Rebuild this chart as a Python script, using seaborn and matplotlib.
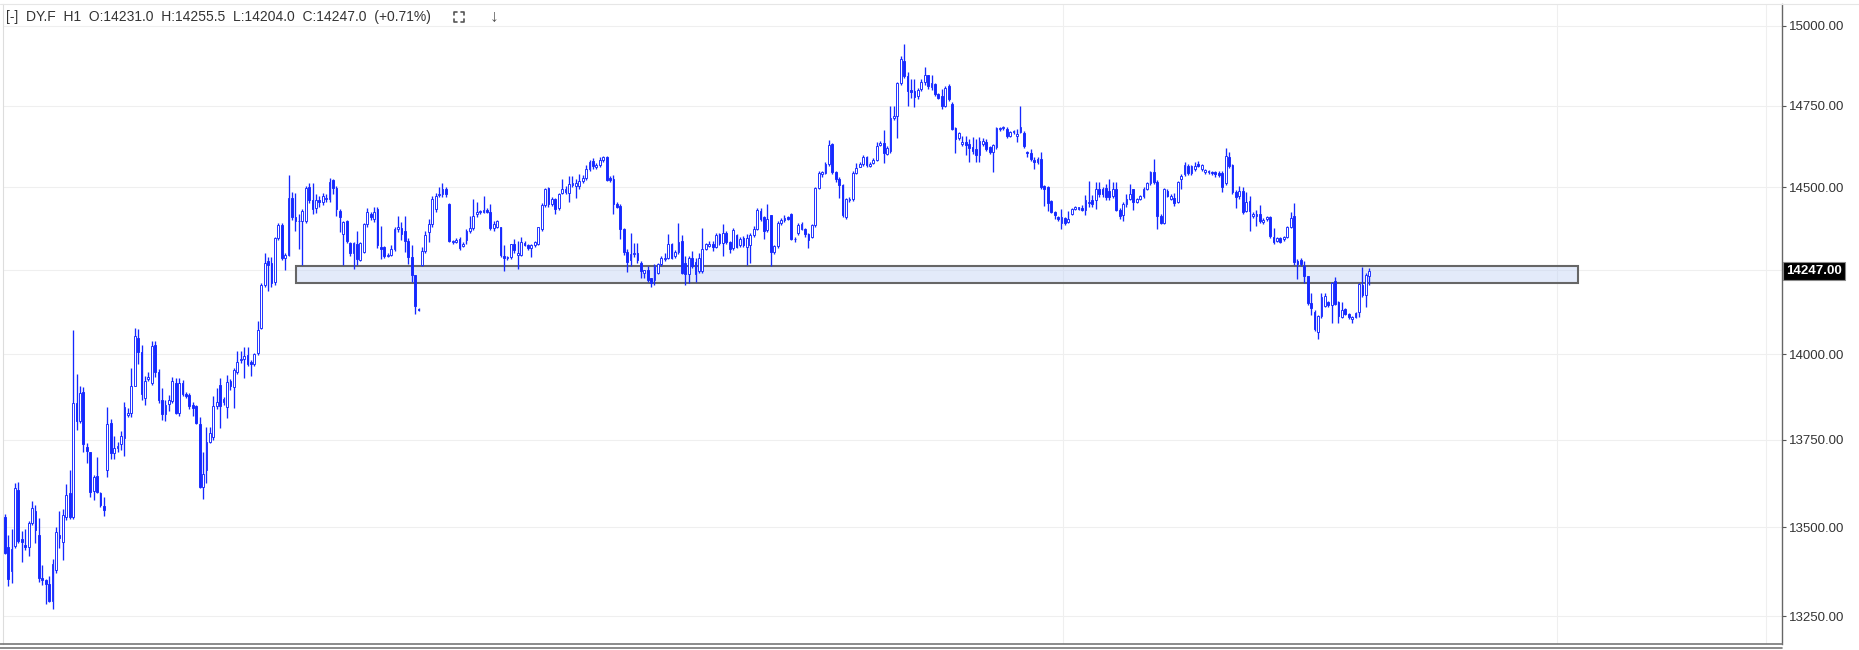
import matplotlib
matplotlib.use("Agg")
import numpy as np
import pandas as pd
import seaborn as sns
import matplotlib.pyplot as plt
from matplotlib.ticker import FixedLocator, FuncFormatter, NullLocator, NullFormatter
from matplotlib.patches import Rectangle
from matplotlib.lines import Line2D

# ---------------- data (hourly candles, DY.F H1) ----------------
opens = [
    13528, 13444, 13377, 13446, 13606, 13465, 13450, 13444, 13513, 13546,
    13479, 13357, 13351, 13339, 13293, 13380, 13479, 13458, 13528, 13597,
    13528, 13858, 13803, 13890, 13728, 13716, 13602, 13647, 13597, 13560,
    13664, 13800, 13713, 13725, 13739, 13755, 13823, 13829, 13907, 14046,
    14006, 13872, 13927, 13916, 14027, 13946, 13866, 13825, 13855, 13863,
    13916, 13829, 13916, 13883, 13881, 13852, 13849, 13797, 13615, 13664,
    13745, 13758, 13849, 13910, 13861, 13846, 13922, 13904, 13946, 13983,
    13986, 13996, 13977, 13971, 14003, 14078, 14205, 14276, 14270, 14213,
    14345, 14385, 14285, 14293, 14468, 14408, 14396, 14398, 14398, 14501,
    14461, 14435, 14461, 14453, 14463, 14463, 14521, 14498, 14428, 14358,
    14398, 14330, 14300, 14328, 14280, 14303, 14388, 14418, 14403, 14433,
    14318, 14318, 14291, 14295, 14311, 14373, 14377, 14368, 14338, 14288,
    14233, 14133, 14263, 14306, 14365, 14388, 14433, 14475, 14478, 14493,
    14448, 14333, 14335, 14343, 14321, 14340, 14368, 14375, 14418, 14423,
    14425, 14430, 14423, 14375, 14378, 14378, 14291, 14285, 14288, 14326,
    14295, 14295, 14331, 14323, 14315, 14323, 14328, 14373, 14445, 14498,
    14448, 14463, 14435, 14483, 14485, 14483, 14505, 14503, 14503, 14518,
    14528, 14555, 14580, 14561, 14568, 14583, 14591, 14528, 14525, 14448,
    14443, 14373, 14303, 14278, 14298, 14300, 14271, 14241, 14248, 14226,
    14220, 14241, 14266, 14281, 14286, 14327, 14291, 14303, 14337, 14271,
    14236, 14286, 14273, 14246, 14246, 14313, 14322, 14329, 14319, 14357,
    14332, 14362, 14334, 14316, 14354, 14324, 14347, 14319, 14324, 14354,
    14374, 14428, 14410, 14370, 14414, 14303, 14321, 14392, 14399, 14409,
    14417, 14344, 14360, 14374, 14374, 14357, 14350, 14384, 14498, 14539,
    14544, 14569, 14632, 14546, 14526, 14505, 14410, 14461, 14463, 14544,
    14562, 14569, 14592, 14564, 14574, 14584, 14630, 14635, 14602, 14611,
    14711, 14717, 14820, 14888, 14842, 14799, 14796, 14779, 14801, 14824,
    14844, 14809, 14817, 14786, 14781, 14750, 14811, 14755, 14682, 14649,
    14632, 14639, 14632, 14621, 14616, 14598, 14632, 14639, 14621, 14608,
    14621, 14678, 14680, 14678, 14657, 14668, 14657, 14670, 14666, 14608,
    14604, 14583, 14575, 14587, 14503, 14501, 14457, 14423, 14409, 14390,
    14406, 14395, 14419, 14433, 14433, 14436, 14431, 14450, 14462, 14462,
    14495, 14493, 14498, 14488, 14473, 14493, 14431, 14416, 14447, 14464,
    14495, 14454, 14464, 14473, 14495, 14511, 14546, 14516, 14413, 14392,
    14488, 14464, 14467, 14454, 14524, 14539, 14565, 14542, 14555, 14570,
    14555, 14546, 14546, 14546, 14546, 14544, 14544, 14512, 14592, 14566,
    14486, 14472, 14489, 14428, 14458, 14411, 14411, 14418, 14393, 14403,
    14408, 14348, 14337, 14345, 14343, 14348, 14378, 14411, 14277, 14280,
    14262, 14230, 14151, 14123, 14066, 14111, 14143, 14153, 14146, 14217,
    14153, 14109, 14133, 14119, 14103, 14109, 14123, 14204, 14176, 14231,
]
highs = [
    13538, 13477, 13494, 13627, 13629, 13489, 13494, 13518, 13573, 13562,
    13525, 13393, 13354, 13361, 13409, 13499, 13545, 13552, 13624, 13664,
    14071, 13940, 13907, 13904, 13740, 13716, 13650, 13699, 13600, 13586,
    13846, 13810, 13760, 13745, 13774, 13861, 13842, 13959, 14078, 14075,
    14027, 13936, 13948, 14037, 14037, 13955, 13899, 13866, 13880, 13933,
    13930, 13930, 13924, 13890, 13885, 13861, 13852, 13817, 13716, 13788,
    13788, 13878, 13900, 13930, 13875, 13938, 13928, 13958, 14010, 14010,
    14020, 14020, 13982, 14003, 14097, 14210, 14301, 14288, 14288, 14350,
    14391, 14391, 14300, 14538, 14485, 14483, 14418, 14433, 14503, 14513,
    14513, 14478, 14473, 14483, 14478, 14528, 14525, 14503, 14433, 14398,
    14401, 14333, 14335, 14368, 14335, 14390, 14435, 14425, 14438, 14438,
    14383, 14320, 14300, 14323, 14378, 14413, 14395, 14413, 14345, 14323,
    14233, 14135, 14318, 14368, 14403, 14473, 14483, 14500, 14511, 14501,
    14450, 14340, 14345, 14348, 14333, 14373, 14413, 14463, 14453, 14430,
    14473, 14435, 14448, 14398, 14400, 14380, 14323, 14292, 14328, 14343,
    14338, 14348, 14336, 14328, 14328, 14338, 14380, 14450, 14498, 14500,
    14470, 14468, 14483, 14525, 14503, 14533, 14533, 14525, 14540, 14538,
    14568, 14583, 14588, 14573, 14593, 14596, 14596, 14535, 14538, 14455,
    14448, 14375, 14313, 14360, 14331, 14331, 14276, 14250, 14261, 14226,
    14266, 14271, 14290, 14301, 14357, 14330, 14310, 14392, 14354, 14291,
    14291, 14306, 14286, 14301, 14375, 14332, 14337, 14337, 14362, 14362,
    14389, 14367, 14337, 14375, 14357, 14350, 14352, 14357, 14360, 14382,
    14436, 14435, 14413, 14448, 14416, 14325, 14397, 14405, 14414, 14413,
    14420, 14350, 14392, 14393, 14377, 14362, 14388, 14500, 14550, 14550,
    14575, 14645, 14635, 14550, 14530, 14508, 14468, 14470, 14548, 14574,
    14576, 14599, 14595, 14576, 14590, 14638, 14640, 14675, 14625, 14748,
    14748, 14825, 14906, 14942, 14855, 14832, 14832, 14805, 14834, 14871,
    14847, 14847, 14820, 14790, 14803, 14810, 14817, 14760, 14685, 14670,
    14657, 14655, 14647, 14652, 14647, 14652, 14650, 14647, 14625, 14632,
    14684, 14685, 14688, 14683, 14672, 14676, 14678, 14748, 14673, 14611,
    14616, 14591, 14591, 14608, 14505, 14503, 14460, 14426, 14412, 14433,
    14410, 14426, 14436, 14443, 14440, 14446, 14475, 14519, 14475, 14514,
    14514, 14500, 14508, 14524, 14514, 14514, 14436, 14454, 14478, 14508,
    14495, 14468, 14476, 14500, 14515, 14550, 14585, 14520, 14418, 14498,
    14495, 14478, 14483, 14519, 14540, 14575, 14570, 14568, 14575, 14580,
    14570, 14556, 14553, 14550, 14550, 14548, 14548, 14620, 14607, 14570,
    14490, 14502, 14499, 14486, 14473, 14425, 14430, 14445, 14405, 14411,
    14412, 14375, 14350, 14350, 14352, 14382, 14423, 14451, 14282, 14285,
    14277, 14232, 14181, 14130, 14115, 14181, 14181, 14158, 14215, 14227,
    14156, 14153, 14137, 14122, 14112, 14125, 14210, 14257, 14240, 14255.5,
]
lows = [
    13425, 13335, 13342, 13440, 13455, 13400, 13434, 13417, 13505, 13456,
    13345, 13337, 13284, 13290, 13270, 13371, 13441, 13407, 13520, 13523,
    13523, 13777, 13800, 13716, 13682, 13586, 13576, 13598, 13558, 13531,
    13644, 13695, 13694, 13715, 13721, 13704, 13815, 13817, 13905, 13972,
    13864, 13851, 13920, 13910, 13933, 13858, 13808, 13805, 13832, 13858,
    13825, 13820, 13878, 13870, 13840, 13820, 13795, 13610, 13579, 13626,
    13740, 13750, 13840, 13784, 13850, 13812, 13895, 13842, 13940, 13975,
    13930, 13965, 13936, 13965, 13998, 14075, 14200, 14188, 14200, 14205,
    14340, 14278, 14250, 14290, 14400, 14368, 14313, 14263, 14390, 14450,
    14418, 14420, 14440, 14445, 14455, 14455, 14480, 14413, 14365, 14263,
    14330, 14290, 14251, 14263, 14275, 14300, 14380, 14400, 14395, 14315,
    14283, 14285, 14288, 14290, 14305, 14365, 14340, 14303, 14268, 14213,
    14118, 14128, 14261, 14300, 14335, 14380, 14425, 14470, 14470, 14470,
    14335, 14328, 14330, 14308, 14318, 14328, 14360, 14370, 14410, 14418,
    14420, 14420, 14370, 14368, 14375, 14288, 14245, 14280, 14282, 14300,
    14253, 14290, 14320, 14310, 14288, 14318, 14325, 14368, 14440, 14440,
    14443, 14418, 14430, 14478, 14480, 14453, 14500, 14468, 14495, 14513,
    14520, 14550, 14555, 14556, 14560, 14578, 14518, 14515, 14418, 14435,
    14343, 14295, 14243, 14260, 14288, 14270, 14226, 14226, 14215, 14200,
    14205, 14236, 14261, 14276, 14281, 14281, 14286, 14298, 14236, 14205,
    14210, 14256, 14215, 14241, 14241, 14308, 14318, 14306, 14314, 14325,
    14291, 14329, 14301, 14310, 14314, 14318, 14318, 14263, 14271, 14350,
    14370, 14398, 14344, 14365, 14261, 14298, 14316, 14385, 14395, 14400,
    14339, 14335, 14355, 14370, 14350, 14316, 14345, 14380, 14493, 14530,
    14540, 14565, 14540, 14515, 14468, 14410, 14404, 14455, 14458, 14540,
    14560, 14565, 14560, 14560, 14570, 14580, 14625, 14574, 14598, 14605,
    14705, 14650, 14815, 14835, 14750, 14775, 14745, 14770, 14795, 14815,
    14803, 14800, 14780, 14770, 14740, 14745, 14765, 14675, 14604, 14645,
    14625, 14598, 14575, 14600, 14575, 14575, 14625, 14610, 14600, 14546,
    14615, 14672, 14675, 14650, 14652, 14664, 14637, 14665, 14620, 14591,
    14580, 14555, 14570, 14495, 14442, 14426, 14420, 14403, 14398, 14372,
    14385, 14390, 14415, 14430, 14430, 14428, 14416, 14440, 14440, 14432,
    14470, 14470, 14460, 14462, 14468, 14426, 14403, 14396, 14440, 14460,
    14431, 14450, 14460, 14468, 14490, 14505, 14508, 14372, 14388, 14388,
    14470, 14460, 14442, 14450, 14494, 14535, 14538, 14538, 14550, 14562,
    14550, 14540, 14540, 14538, 14530, 14530, 14486, 14505, 14558, 14480,
    14435, 14465, 14418, 14423, 14368, 14405, 14383, 14392, 14388, 14398,
    14345, 14328, 14333, 14332, 14338, 14345, 14375, 14265, 14224, 14260,
    14212, 14146, 14116, 14068, 14043, 14106, 14138, 14140, 14093, 14145,
    14091, 14105, 14115, 14104, 14093, 14105, 14109, 14170, 14139, 14204,
]
closes = [
    13427, 13353, 13438, 13612, 13462, 13458, 13444, 13513, 13554, 13492,
    13355, 13351, 13339, 13293, 13395, 13487, 13469, 13533, 13591, 13528,
    13858, 13803, 13887, 13738, 13718, 13600, 13644, 13600, 13562, 13550,
    13795, 13713, 13726, 13733, 13760, 13844, 13829, 13907, 14052, 14006,
    13883, 13922, 13933, 14023, 13946, 13866, 13825, 13852, 13865, 13922,
    13829, 13916, 13883, 13878, 13848, 13842, 13800, 13613, 13652, 13745,
    13771, 13849, 13861, 13849, 13867, 13919, 13907, 13952, 13977, 13986,
    13994, 13971, 13971, 14000, 14071, 14205, 14270, 14263, 14210, 14345,
    14385, 14285, 14293, 14468, 14408, 14398, 14398, 14428, 14498, 14461,
    14433, 14461, 14453, 14473, 14468, 14515, 14498, 14433, 14410, 14395,
    14338, 14300, 14330, 14281, 14330, 14388, 14423, 14408, 14423, 14323,
    14313, 14291, 14295, 14311, 14373, 14380, 14358, 14338, 14288, 14233,
    14143, 14131, 14306, 14355, 14388, 14465, 14473, 14478, 14493, 14478,
    14338, 14338, 14340, 14315, 14328, 14368, 14375, 14413, 14425, 14428,
    14430, 14425, 14375, 14388, 14398, 14293, 14285, 14288, 14326, 14308,
    14300, 14333, 14323, 14315, 14323, 14333, 14378, 14445, 14493, 14448,
    14465, 14433, 14478, 14495, 14495, 14510, 14513, 14513, 14518, 14528,
    14555, 14578, 14563, 14568, 14583, 14591, 14521, 14523, 14448, 14438,
    14373, 14303, 14273, 14298, 14300, 14278, 14246, 14248, 14220, 14212,
    14261, 14266, 14286, 14286, 14327, 14286, 14303, 14335, 14241, 14236,
    14286, 14261, 14236, 14286, 14313, 14327, 14327, 14319, 14354, 14332,
    14360, 14334, 14311, 14369, 14319, 14342, 14324, 14347, 14354, 14374,
    14430, 14404, 14367, 14404, 14303, 14321, 14392, 14399, 14407, 14404,
    14344, 14342, 14384, 14387, 14357, 14340, 14384, 14498, 14544, 14546,
    14569, 14630, 14546, 14524, 14505, 14414, 14463, 14465, 14542, 14559,
    14569, 14592, 14566, 14571, 14584, 14625, 14635, 14604, 14619, 14711,
    14717, 14820, 14896, 14842, 14796, 14793, 14778, 14799, 14824, 14847,
    14811, 14820, 14786, 14775, 14750, 14806, 14770, 14678, 14647, 14665,
    14637, 14629, 14618, 14611, 14598, 14640, 14640, 14616, 14608, 14629,
    14680, 14680, 14685, 14657, 14668, 14673, 14662, 14683, 14627, 14604,
    14585, 14577, 14587, 14501, 14495, 14452, 14423, 14416, 14403, 14409,
    14390, 14403, 14433, 14438, 14438, 14431, 14460, 14454, 14447, 14493,
    14478, 14478, 14470, 14470, 14493, 14431, 14411, 14447, 14464, 14478,
    14454, 14464, 14473, 14495, 14511, 14546, 14514, 14411, 14392, 14493,
    14473, 14473, 14452, 14516, 14534, 14567, 14542, 14563, 14563, 14565,
    14567, 14553, 14550, 14542, 14539, 14537, 14499, 14596, 14564, 14486,
    14469, 14489, 14423, 14455, 14428, 14418, 14418, 14398, 14401, 14408,
    14351, 14333, 14345, 14335, 14348, 14378, 14405, 14272, 14267, 14267,
    14230, 14151, 14136, 14073, 14111, 14169, 14173, 14146, 14210, 14149,
    14111, 14129, 14119, 14109, 14109, 14121, 14207, 14176, 14234, 14247,
]

price_ticks = [13250, 13500, 13750, 14000, 14250, 14500, 14750, 15000]
hidden_tick = 14250          # covered by the last-price label
last_price = 14247.0
zone_low, zone_high = 14212, 14260     # drawn support zone (price)
zone_start, zone_end = 85.2, 460.0     # zone extent (bar index)
vgrid_bars = [309.5, 453.8, 515.0]     # vertical grid lines (bar index)
header = "[-]  DY.F  H1  O:14231.0  H:14255.5  L:14204.0  C:14247.0  (+0.71%)"

assert len(opens) == len(highs) == len(lows) == len(closes) == 400

df = pd.DataFrame({"open": opens, "high": highs, "low": lows, "close": closes})
df["bar"] = np.arange(len(df))
df["up"] = df["close"] >= df["open"]

# ---------------- figure ----------------
sns.set_theme(style="white")
plt.rcParams["font.family"] = ["Liberation Sans", "DejaVu Sans"]

W, H = 1859, 650
fig = plt.figure(figsize=(W / 100, H / 100), dpi=100)
fig.patch.set_facecolor("white")
ax_l, ax_r, ax_t, ax_b = 3.3, 1782.0, 4.0, 644.3
ax = fig.add_axes([ax_l / W, 1 - ax_b / H, (ax_r - ax_l) / W, (ax_b - ax_t) / H])
ax.set_facecolor("white")

BLUE = "#1428ff"

# grid
for t in price_ticks:
    ax.axhline(t, color="#efefef", lw=0.8, zorder=0.5)
for xv in vgrid_bars:
    ax.axvline(xv, color="#efefef", lw=0.8, zorder=0.5)

# zone rectangle
ax.add_patch(Rectangle((zone_start, zone_low), zone_end - zone_start, zone_high - zone_low,
                       facecolor=(0.76, 0.824, 0.96, 0.45), edgecolor="#666666",
                       lw=1.5, zorder=2))

# wicks
wick_lo = np.minimum(df["low"], np.minimum(df["open"], df["close"]))
wick_hi = np.maximum(df["high"], np.maximum(df["open"], df["close"]))
ax.vlines(df["bar"], wick_lo, wick_hi, color=BLUE, lw=0.95, zorder=3)

# bodies
up = df[df["up"]]
dn = df[~df["up"]]
ax.bar(up["bar"], up["close"] - up["open"], bottom=up["open"], width=0.52,
       facecolor="white", edgecolor=BLUE, linewidth=0.65, zorder=4)
ax.bar(dn["bar"], dn["open"] - dn["close"], bottom=dn["close"], width=0.52,
       facecolor=BLUE, edgecolor=BLUE, linewidth=0.65, zorder=4)

# scales
ax.set_yscale("log")
ax.set_ylim(13171.6, 15068.6)
ax.set_xlim(-0.41, 519.68)
ax.set_xticks([])
ax.yaxis.tick_right()
ax.yaxis.set_major_locator(FixedLocator(price_ticks))
ax.yaxis.set_minor_locator(NullLocator())
ax.yaxis.set_minor_formatter(NullFormatter())
ax.yaxis.set_major_formatter(FuncFormatter(
    lambda v, p: "" if abs(v - hidden_tick) < 1 else f"{v:.2f}"))
ax.tick_params(axis="y", which="major", direction="out", length=3, width=0.8,
               color="#555555", labelsize=9.5, labelcolor="#333333", pad=2)

for s in ["top", "bottom"]:
    ax.spines[s].set_visible(False)
ax.spines["left"].set_color("#dddddd")
ax.spines["left"].set_linewidth(0.8)
ax.spines["right"].set_color("#666666")
ax.spines["right"].set_linewidth(1.0)

# last price label
ax.annotate(f"{last_price:.2f}", xy=(1, last_price), xycoords=("axes fraction", "data"),
            xytext=(3.0, 0), textcoords="offset points", ha="left", va="center",
            color="white", fontsize=9.5, fontweight="bold",
            bbox=dict(boxstyle="square,pad=0.22", fc="black", ec="#888888", lw=0.8),
            annotation_clip=False, zorder=10)

# frame lines (figure pixel coords)
def hline(y, x0, x1, color, lw):
    fig.add_artist(Line2D([x0 / W, x1 / W], [1 - y / H, 1 - y / H],
                          transform=fig.transFigure, color=color, lw=lw))

hline(4.0, 0, W, "#e6e6e6", 0.8)
hline(644.3, 0, 1782, "#777777", 1.2)
hline(647.7, 0, 1782, "#777777", 1.2)

# header
fig.text(6 / W, 1 - 17 / H, header, fontsize=10.0, color="#333333",
         ha="left", va="center")
# fullscreen icon (four corners)
cx0, cy0, cx1, cy1, k = 454, 12, 464, 22, 3
for (xa, ya, dx, dy) in [(cx0, cy0, 1, 1), (cx1, cy0, -1, 1), (cx0, cy1, 1, -1), (cx1, cy1, -1, -1)]:
    fig.add_artist(Line2D([xa / W, xa / W, (xa + dx * k) / W],
                          [1 - (ya + dy * k) / H, 1 - ya / H, 1 - ya / H],
                          transform=fig.transFigure, color="#555555", lw=1.2))
fig.text(494 / W, 1 - 17 / H, "\u2193", fontsize=12.5, color="#555555",
         ha="center", va="center", fontweight="bold")

fig.savefig("out.png", dpi=100, facecolor="white")
